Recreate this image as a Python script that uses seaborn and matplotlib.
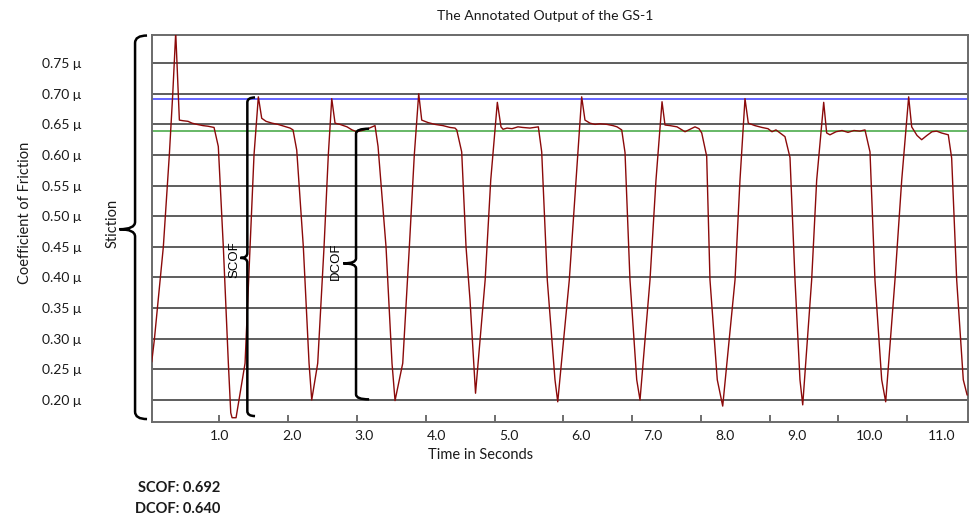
import numpy as np
import pandas as pd
import matplotlib.pyplot as plt
import seaborn as sns
from matplotlib.path import Path
from matplotlib.patches import PathPatch

time_s = [0.017, 0.055, 0.186, 0.273, 0.323, 0.366, 0.419, 0.472, 0.545, 0.603, 0.676, 0.763, 0.836, 0.923,
          0.985, 1.058, 1.131, 1.166, 1.185, 1.243, 1.374, 1.446, 1.504, 1.567,
          1.616, 1.679, 1.766, 1.853, 1.940, 2.028, 2.071, 2.125, 2.221, 2.304, 2.343, 2.430, 2.522, 2.584, 2.634,
          2.682, 2.754, 2.856, 2.929, 2.997, 3.074, 3.161, 3.263, 3.307, 3.423, 3.510, 3.554, 3.666, 3.762, 3.834, 3.898,
          3.942, 4.033, 4.135, 4.251, 4.353, 4.426, 4.451, 4.523, 4.586, 4.644, 4.724, 4.864, 4.945, 5.041,
          5.094, 5.124, 5.182, 5.254, 5.341, 5.410, 5.516, 5.637, 5.686, 5.767, 5.879, 5.919, 6.087, 6.185, 6.267,
          6.315, 6.388, 6.461, 6.533, 6.635, 6.722, 6.781, 6.849, 6.897, 6.969, 7.067, 7.115, 7.260, 7.347, 7.435,
          7.478, 7.551, 7.653, 7.769, 7.842, 7.914, 7.972, 8.012, 8.084, 8.132, 8.238, 8.317, 8.496, 8.568, 8.641,
          8.689, 8.786, 8.888, 8.975, 9.033, 9.091, 9.150, 9.222, 9.295, 9.368, 9.440, 9.480, 9.610, 9.683, 9.785,
          9.828, 9.876, 9.964, 10.051, 10.138, 10.225, 10.312, 10.385, 10.458, 10.530, 10.628, 10.686, 10.821, 10.919, 11.020,
          11.064, 11.141, 11.209, 11.286, 11.359, 11.427, 11.497, 11.596, 11.645, 11.718, 11.814, 11.870]
cof = [0.262, 0.298, 0.450, 0.600, 0.700, 0.800, 0.657, 0.656, 0.655, 0.652, 0.650, 0.648, 0.647, 0.645,
       0.614, 0.450, 0.260, 0.179, 0.171, 0.171, 0.260, 0.450, 0.600, 0.695,
       0.660, 0.655, 0.652, 0.650, 0.647, 0.644, 0.641, 0.608, 0.450, 0.260, 0.200, 0.260, 0.450, 0.600, 0.692,
       0.652, 0.650, 0.646, 0.641, 0.638, 0.640, 0.643, 0.648, 0.614, 0.450, 0.260, 0.199, 0.260, 0.450, 0.600, 0.700,
       0.657, 0.653, 0.650, 0.648, 0.645, 0.644, 0.641, 0.605, 0.450, 0.363, 0.211, 0.396, 0.559, 0.686,
       0.646, 0.642, 0.644, 0.643, 0.646, 0.645, 0.644, 0.646, 0.605, 0.396, 0.233, 0.197, 0.396, 0.559, 0.695,
       0.657, 0.652, 0.650, 0.651, 0.650, 0.648, 0.646, 0.641, 0.604, 0.396, 0.233, 0.200, 0.396, 0.559, 0.687,
       0.649, 0.648, 0.646, 0.638, 0.642, 0.646, 0.643, 0.636, 0.598, 0.396, 0.233, 0.190, 0.396, 0.559, 0.692,
       0.652, 0.648, 0.645, 0.643, 0.638, 0.641, 0.636, 0.630, 0.596, 0.396, 0.233, 0.192, 0.396, 0.559, 0.686,
       0.636, 0.633, 0.638, 0.640, 0.637, 0.640, 0.639, 0.641, 0.605, 0.396, 0.233, 0.197, 0.396, 0.559, 0.695,
       0.646, 0.632, 0.625, 0.632, 0.638, 0.639, 0.636, 0.633, 0.595, 0.396, 0.233, 0.208]

scof = 0.692
dcof = 0.640

y_ticks = [0.20, 0.25, 0.30, 0.35, 0.40, 0.45, 0.50, 0.55, 0.60, 0.65, 0.70, 0.75]
y_tick_labels = ['0.20 μ', '0.25 μ', '0.30 μ', '0.35 μ', '0.40 μ', '0.45 μ',
                 '0.50 μ', '0.55 μ', '0.60 μ', '0.65 μ', '0.70 μ', '0.75 μ']
x_ticks = [1, 2, 3, 4, 5, 6, 7, 8, 9, 10, 11]
x_tick_labels = ['1.0', '2.0', '3.0', '4.0', '5.0', '6.0', '7.0', '8.0', '9.0', '10.0', '11.0']


# Geschweifte Klammer (nach links zeigend) zeichnen
def brace(ax, x, y_top, y_bot, y_mid, hook, tip, r=0.012):
    verts = [(x + hook, y_top), (x, y_top), (x, y_top - r),
             (x, y_mid + r), (x, y_mid), (x - tip, y_mid),
             (x, y_mid), (x, y_mid - r),
             (x, y_bot + r), (x, y_bot), (x + hook, y_bot)]
    codes = [Path.MOVETO, Path.CURVE3, Path.CURVE3, Path.LINETO, Path.CURVE3, Path.CURVE3,
             Path.CURVE3, Path.CURVE3, Path.LINETO, Path.CURVE3, Path.CURVE3]
    ax.add_patch(PathPatch(Path(verts, codes), fill=False, lw=1.8, color='black',
                           clip_on=False, zorder=5, capstyle='butt'))


sns.set_theme(style='white')
plt.rcParams['font.family'] = ['Lato', 'DejaVu Sans']

fig = plt.figure(figsize=(9.75, 5.23), dpi=100)
ax = fig.add_axes([0.1556, 0.1931, 0.8369, 0.740])

df = pd.DataFrame({'time': time_s, 'cof': cof})
sns.lineplot(data=df, x='time', y='cof', color='#8b0a0a', lw=1.0, ax=ax,
             estimator=None, sort=False, zorder=3)

ax.axhline(scof, color='#6464ff', lw=1.4, zorder=2)
ax.axhline(dcof, color='#66b866', lw=1.4, zorder=2)

ax.set_xlim(0.017, 11.878)
ax.set_ylim(0.164, 0.796)
ax.set_xlabel('')
ax.set_ylabel('')

ax.set_yticks(y_ticks)
ax.set_yticklabels(y_tick_labels)
ax.grid(axis='y', color='#505050', lw=1.3)
ax.grid(axis='x', visible=False)
ax.tick_params(axis='y', length=0, pad=51, labelsize=10, labelcolor='#1a1a1a')

# Beschriftungen liegen leicht versetzt zu den Strichen
label_pos = [1.01 + 1.049 * i for i in range(len(x_tick_labels))]
ax.set_xticks(label_pos)
ax.set_xticklabels(x_tick_labels)
ax.set_xticks(x_ticks, minor=True)
ax.tick_params(axis='x', which='major', length=0, pad=6, labelsize=10, labelcolor='#1a1a1a')
ax.tick_params(axis='x', which='minor', bottom=True, direction='in', length=5, width=1.2, color='#555555')

for s in ax.spines.values():
    s.set_color('#6a6a6a')
    s.set_linewidth(1.4)

# Klammern und Beschriftungen
brace(ax, -0.225, 0.7951, 0.1688, 0.4788, 0.174, 0.228)
brace(ax, 1.407, scof + 0.002, 0.1737, 0.432, 0.112, 0.10, r=0.008)
brace(ax, 2.987, dcof + 0.003, 0.201, 0.423, 0.19, 0.184, r=0.008)

ax.text(-0.545, 0.489, 'Stiction', rotation=90, ha='center', va='center', fontsize=10.5, color='#1a1a1a')
ax.text(1.214, 0.4286, 'SCOF', rotation=90, ha='center', va='center', fontsize=9.5,
        family=['Liberation Sans', 'DejaVu Sans'], color='black')
ax.text(2.696, 0.426, 'DCOF', rotation=90, ha='center', va='center', fontsize=9.5,
        family=['Liberation Sans', 'DejaVu Sans'], color='black')

fig.text(0.5587, 0.970, 'The Annotated Output of the GS-1', ha='center', va='center', fontsize=10.1, color='#1a1a1a')
fig.text(0.0256, 0.5927, 'Coefficient of Friction', rotation=90, ha='center', va='center', fontsize=10.5, color='#1a1a1a')
fig.text(0.4933, 0.130, 'Time in Seconds', ha='center', va='center', fontsize=10.5, color='#1a1a1a')
fig.text(0.1415, 0.0663, f'SCOF: {scof:.3f}', ha='left', va='center', fontsize=10.5, fontweight='bold', color='#1a1a1a')
fig.text(0.1385, 0.0262, f'DCOF: {dcof:.3f}', ha='left', va='center', fontsize=10.5, fontweight='bold', color='#1a1a1a')

fig.savefig('out.png', dpi=100)
